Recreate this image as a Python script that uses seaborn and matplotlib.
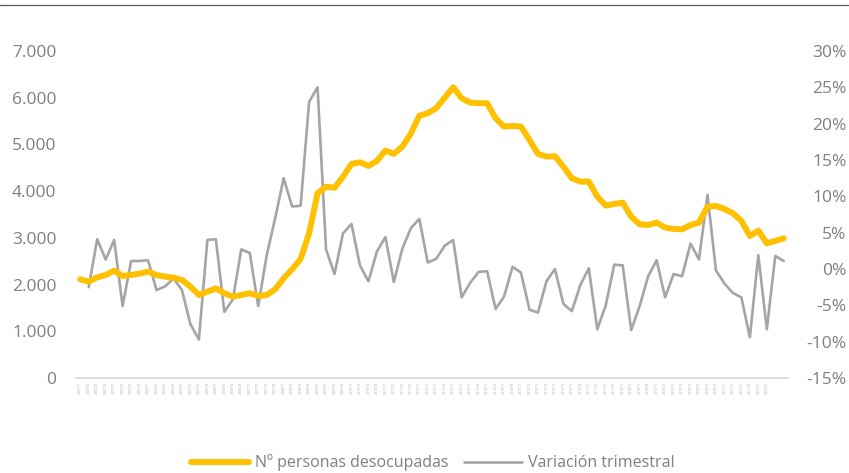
import matplotlib
matplotlib.use("Agg")
import matplotlib.pyplot as plt
from matplotlib.lines import Line2D
from matplotlib.ticker import FuncFormatter
import seaborn as sns
import numpy as np
import pandas as pd

# Quarters 2002T1 .. 2022T4 (labels shown only up to 2022T2, as in the source)
years = list(range(2002, 2023))
quarters = [f"{y}T{q}" for y in years for q in range(1, 5)]
tick_labels = quarters[:82] + ["", ""]

# Nº personas desocupadas (miles)
desocupados = [
    2113, 2063, 2156, 2205, 2298, 2184, 2205, 2234, 2277, 2205, 2170, 2148,
    2099, 1956, 1777, 1848, 1920, 1813, 1741, 1777, 1813, 1756, 1777, 1899,
    2135, 2328, 2548, 3098, 3955, 4096, 4072, 4310, 4582, 4618, 4540, 4647,
    4868, 4797, 4953, 5230, 5615, 5668, 5775, 6000, 6225, 5989, 5895, 5882,
    5882, 5561, 5381, 5396, 5381, 5096, 4797, 4739, 4746, 4525, 4276, 4204,
    4204, 3882, 3690, 3726, 3754, 3454, 3291, 3276, 3326, 3218, 3191, 3183,
    3276, 3326, 3668, 3683, 3619, 3526, 3365, 3041, 3155, 2884, 2934, 2991,
]

# Variación trimestral (%)
variacion = [
    np.nan, -2.5, 4.1, 1.3, 4.0, -5.1, 1.1, 1.1, 1.2, -2.9, -2.4, -1.3,
    -2.9, -7.6, -9.7, 4.0, 4.1, -5.9, -4.2, 2.7, 2.2, -5.1, 1.9, 7.0,
    12.5, 8.6, 8.7, 23.0, 25.0, 2.7, -0.7, 4.9, 6.2, 0.5, -1.7, 2.4,
    4.4, -1.8, 2.8, 5.6, 6.9, 0.9, 1.4, 3.2, 4.0, -3.9, -1.9, -0.4,
    -0.3, -5.5, -3.8, 0.3, -0.5, -5.6, -6.0, -1.7, 0.0, -4.8, -5.8, -2.2,
    0.1, -8.3, -5.0, 0.6, 0.5, -8.4, -5.1, -1.0, 1.2, -3.9, -0.7, -1.0,
    3.5, 1.3, 10.2, -0.2, -2.0, -3.3, -3.9, -9.4, 1.9, -8.3, 1.8, 1.1,
]

df = pd.DataFrame({"idx": range(len(quarters)), "desocupados": desocupados,
                   "variacion": variacion})

YELLOW = "#FFC000"
GREY = "#A5A5A5"
TXT = "#7F7F7F"

sns.set_style("white")
plt.rcParams["font.family"] = ["Open Sans", "DejaVu Sans"]

fig = plt.figure(figsize=(8.49, 4.73), dpi=100)
ax = fig.add_axes([76 / 849, 1 - 378 / 473, (788 - 76) / 849, (378 - 51) / 473])
ax2 = ax.twinx()

sns.lineplot(data=df, x="idx", y="variacion", ax=ax2, color=GREY, linewidth=1.9)
sns.lineplot(data=df, x="idx", y="desocupados", ax=ax, color=YELLOW, linewidth=4.3)
ax.set_zorder(ax2.get_zorder() + 1)
ax.patch.set_visible(False)

ax.set_xlim(-0.5, len(quarters) - 0.5)
ax.set_ylim(0, 7000)
ax.set_yticks(range(0, 7001, 1000))
ax.yaxis.set_major_formatter(FuncFormatter(lambda v, p: f"{v:,.0f}".replace(",", ".")))
ax2.set_ylim(-15, 30)
ax2.set_yticks(range(-15, 31, 5))
ax2.yaxis.set_major_formatter(FuncFormatter(lambda v, p: f"{v:.0f}%"))

ax.set_xticks(range(len(quarters)))
ax.set_xticklabels(tick_labels, rotation=90, fontsize=2.6, color="#B0B0B0")
ax.tick_params(axis="x", length=0, pad=2.5)
ax.tick_params(axis="y", length=0, pad=14, labelsize=12.5, labelcolor=TXT)
ax2.tick_params(axis="y", length=0, pad=42, labelsize=12.5, labelcolor=TXT)
for t in ax2.get_yticklabels():
    t.set_horizontalalignment("right")

for a in (ax, ax2):
    a.set_xlabel("")
    a.set_ylabel("")
    for s in a.spines.values():
        s.set_visible(False)
ax.spines["bottom"].set_visible(True)
ax.spines["bottom"].set_color("#D9D9D9")
ax.spines["bottom"].set_linewidth(1.2)

# top rule
fig.add_artist(Line2D([0, 1], [1 - 5 / 473, 1 - 5 / 473], color="#595959", linewidth=0.9))

handles = [Line2D([], [], color=YELLOW, linewidth=4.3),
           Line2D([], [], color=GREY, linewidth=1.9)]
fig.legend(handles, ["Nº personas desocupadas", "Variación trimestral"],
           loc="center", bbox_to_anchor=(0.51, 1 - 463 / 473), ncol=2, frameon=False,
           fontsize=11.5, labelcolor=TXT, handlelength=3.6, columnspacing=1.0,
           handletextpad=0.4)

fig.savefig("out.png", dpi=100)
